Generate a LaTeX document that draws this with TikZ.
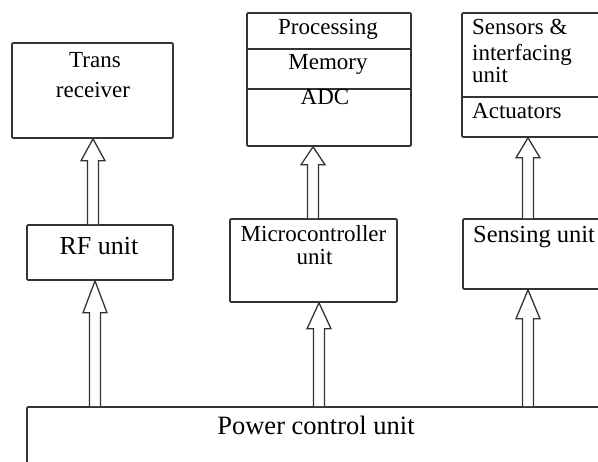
\documentclass[tikz,border=0pt]{standalone}
\usepackage{fontspec}
\setmainfont{Liberation Serif}
\usetikzlibrary{calc}
\newcommand\hollowarrow[4]{%
  \draw[arr] let \p1=(#2 -| #1), \p2=(#3 -| #1) in
    ({\x1-5.5pt},{\y1}) -- ({\x1-5.5pt},{\y2-#4pt}) -- ({\x1-12pt},{\y2-#4pt})
    -- (\x2,\y2) -- ({\x1+12pt},{\y2-#4pt}) -- ({\x1+5.5pt},{\y2-#4pt}) -- ({\x1+5.5pt},{\y1});}
\begin{document}
\begin{tikzpicture}[x=1pt,y=-1pt,
  box/.style={draw=black!80, line width=1.6pt, rounded corners=1pt, inner sep=0pt},
  sep/.style={draw=black!80, line width=1.4pt},
  arr/.style={draw=black!80, line width=1.3pt, fill=white, line join=miter},
  txt/.style={inner sep=0pt, anchor=base, font=\fontsize{23}{27}\selectfont},
  ltxt/.style={txt, anchor=base west}]
\useasboundingbox (0,0) rectangle (598,462);
\clip (0,0) rectangle (598,462);
\fill[white] (0,0) rectangle (598,462);
% boxes
\node[box, minimum width=161pt, minimum height=95pt] (tr) at (92.5,90.5) {};
\node[box, minimum width=146pt, minimum height=55pt] (rf) at (100,252.5) {};
\node[box, minimum width=164pt, minimum height=133pt] (proc) at (329,79.5) {};
\node[box, minimum width=167pt, minimum height=83pt] (mc) at (313.5,260.5) {};
\node[box, minimum width=153pt, minimum height=124pt] (sens) at (538.5,75) {};
\node[box, minimum width=152pt, minimum height=70pt] (sensing) at (539,254) {};
\node[box, minimum width=588pt, minimum height=73pt] (power) at (321,443.5) {};
% dividers
\draw[sep] ($(proc.north west)+(0,37)$) -- ($(proc.north east)+(0,37)$);
\draw[sep] ($(proc.north west)+(0,77)$) -- ($(proc.north east)+(0,77)$);
\draw[sep] ($(sens.north west)+(0,85)$) -- ($(sens.north east)+(0,85)$);
% texts
\node[txt] (t1) at (95,68) {Trans};
\node[txt] (t2) at (93,98) {receiver};
\node[txt, font=\fontsize{26}{30}\selectfont] (t3) at (99,255) {RF unit};
\node[txt] (t4) at (328,35) {Processing};
\node[txt] (t5) at (328,70) {Memory};
\node[txt] (t6) at (325,105) {ADC};
\node[txt] (t7) at (313.5,242) {Microcontroller};
\node[txt] (t8) at (314.5,265) {unit};
\node[ltxt] (t9) at (472,35) {Sensors \&};
\node[ltxt] (t10) at (472,61) {interfacing};
\node[ltxt] (t11) at (472,83) {unit};
\node[ltxt] (t12) at (472,119) {Actuators};
\node[ltxt, font=\fontsize{24.5}{28}\selectfont] (t13) at (473,243) {Sensing unit};
\node[txt, font=\fontsize{26.5}{30}\selectfont] (t14) at (316,435) {Power control unit};
% arrow axes
\coordinate (a1) at (95,0);
\coordinate (a2) at (93,0);
\coordinate (a3) at (319,0);
\coordinate (a4) at (313,0);
\coordinate (a5) at (528,0);
% arrows
\hollowarrow{a1}{power.north}{rf.south}{32}
\hollowarrow{a2}{rf.north}{tr.south}{22}
\hollowarrow{a3}{power.north}{mc.south}{26}
\hollowarrow{a4}{mc.north}{proc.south}{18}
\hollowarrow{a5}{power.north}{sensing.south}{29}
\hollowarrow{a5}{sensing.north}{sens.south}{20}
\end{tikzpicture}
\end{document}
